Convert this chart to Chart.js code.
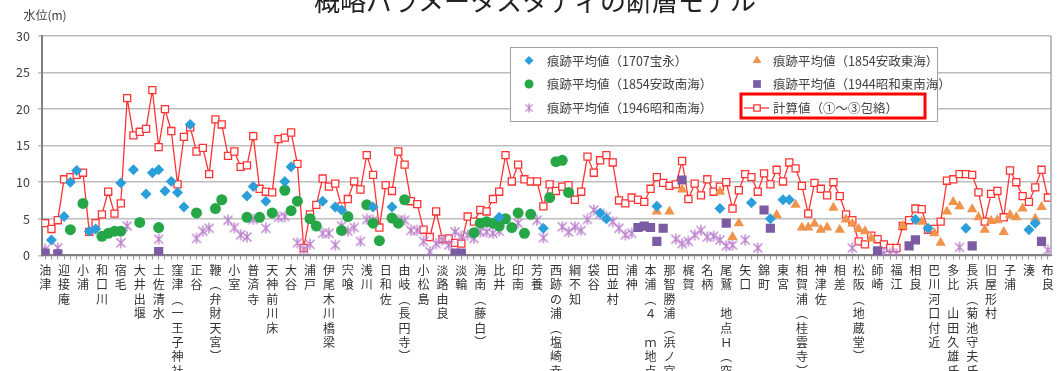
<!DOCTYPE html>
<html>
<head>
<meta charset="utf-8">
<script src="https://cdn.jsdelivr.net/npm/chart.js@4.4.1/dist/chart.umd.min.js"></script>
<style>
  html, body { margin: 0; padding: 0; background: #fff; overflow: hidden; }
</style>
</head>
<body>
<canvas id="myChart" width="1064" height="371"></canvas>
<script>
// 地点名（3データごとに1地点）
var places = [
  "油津", "迎接庵", "小浦", "和口川", "宿毛", "大井出堰", "土佐清水", "窪津（一王子神社）",
  "正谷", "鞭（弁財天宮）", "小室", "普済寺", "天神前川床", "大谷", "浦戸", "伊尾木川橋梁",
  "宍喰", "浅川", "日和佐", "由岐（長円寺）", "小松島", "淡路由良", "淡輪", "海南（藤白）",
  "比井", "印南", "芳養", "西跡の浦（塩崎幸", "綱不知", "袋谷", "田並村", "浦神",
  "本浦（４ ｍ地点）", "那智勝浦（浜ノ宮）", "梶賀", "名柄", "尾鷲 地点Ｈ（突", "矢口", "錦町", "東宮",
  "相賀浦（桂雲寺）", "神津佐", "相差", "松阪（地蔵堂）", "師崎", "福江", "相良", "巴川河口付近",
  "多比 山田久雄氏", "長浜（菊池守夫氏", "旧屋形村", "子浦", "湊", "布良"
];

// 計算値（①～③包絡）
var calc = [
  4.4, 3.6, 4.8, 10.4, 10.7, 11.0, 11.3, 3.2, 4.4, 5.6, 8.7, 5.7, 7.1, 21.5, 16.4, 16.9,
  17.3, 22.6, 14.8, 20.0, 17.0, 9.7, 16.2, 17.5, 14.2, 14.7, 11.1, 18.6, 17.9, 13.6, 14.2, 12.1,
  12.3, 16.3, 9.1, 8.7, 8.6, 15.9, 16.1, 16.8, 12.5, 1.0, 5.6, 6.9, 10.5, 9.4, 9.8, 6.7,
  7.7, 10.1, 9.0, 13.7, 11.0, 3.8, 9.6, 8.8, 14.2, 12.4, 7.4, 7.0, 3.5, 2.5, 6.0, 2.2,
  2.3, 1.7, 1.6, 5.3, 4.6, 6.2, 6.0, 7.7, 8.7, 13.7, 10.1, 12.4, 10.4, 10.1, 10.1, 6.7,
  9.7, 8.8, 9.4, 9.6, 7.6, 8.7, 13.5, 11.3, 13.0, 13.7, 12.7, 7.5, 7.1, 7.9, 7.6, 7.3,
  9.1, 10.7, 9.9, 9.5, 9.7, 12.9, 7.7, 9.8, 8.2, 10.4, 8.7, 9.4, 10.0, 6.4, 8.9, 11.1,
  10.7, 8.7, 11.2, 9.7, 11.7, 10.1, 12.7, 11.9, 9.5, 5.7, 9.9, 9.1, 8.2, 10.0, 8.1, 5.6,
  4.8, 1.9, 1.5, 2.7, 2.2, 1.5, 1.0, 1.0, 4.0, 4.8, 6.4, 6.3, 3.5, 3.6, 4.6, 10.2,
  10.4, 11.1, 11.1, 11.0, 8.6, 4.6, 8.4, 8.8, 5.2, 11.6, 10.0, 8.1, 7.3, 9.3, 11.7, 7.9
];

// 痕跡平均値 [データ番号, 水位]
var hoei1707 = [
  [1, 2.1], [3, 5.3], [4, 10.0], [5, 11.6], [7, 3.3], [8, 3.6], [12, 9.9], [14, 11.7],
  [16, 8.4], [17, 11.3], [18, 11.7], [19, 8.8], [20, 10.1], [21, 8.6], [22, 6.6], [23, 17.9],
  [32, 8.1], [33, 9.4], [35, 7.4], [38, 10.1], [39, 12.1], [44, 7.4], [46, 6.6], [47, 6.2],
  [52, 6.6], [55, 6.6], [72, 5.2], [79, 3.7], [88, 5.8], [89, 5.0], [97, 6.7], [107, 6.4],
  [112, 7.2], [115, 5.0], [117, 7.6], [118, 7.6], [138, 4.9], [140, 3.7], [146, 3.7], [156, 3.5],
  [157, 4.4]
];
var ansei1854t = [
  [97, 6.0], [99, 6.0], [101, 9.0], [107, 8.7], [109, 2.5], [110, 4.4], [116, 5.5], [119, 6.9],
  [120, 3.8], [121, 3.8], [122, 4.3], [123, 3.5], [124, 3.8], [125, 6.5], [126, 3.5], [127, 4.9],
  [128, 4.3], [129, 3.6], [130, 3.3], [131, 2.3], [136, 4.0], [139, 4.6], [141, 3.0], [142, 1.7],
  [143, 6.0], [144, 7.3], [145, 6.7], [147, 6.3], [148, 5.2], [149, 3.5], [150, 4.7], [151, 4.8],
  [152, 3.2], [153, 5.5], [154, 5.2], [155, 6.4], [157, 5.0], [158, 6.6]
];
var ansei1854n = [
  [4, 3.5], [6, 7.1], [9, 2.6], [10, 3.0], [11, 3.3], [12, 3.3], [15, 4.5], [18, 3.8],
  [24, 5.8], [27, 6.4], [28, 7.6], [32, 5.2], [34, 5.2], [36, 5.8], [38, 8.9], [39, 6.1],
  [40, 7.4], [42, 5.0], [43, 4.0], [47, 3.4], [48, 5.3], [51, 6.9], [52, 4.4], [53, 2.0],
  [55, 5.1], [56, 4.4], [57, 7.6], [68, 3.1], [69, 4.4], [70, 4.6], [71, 4.4], [72, 4.0],
  [73, 5.0], [74, 3.8], [75, 5.8], [76, 3.0], [77, 5.6], [80, 7.9], [81, 12.8], [82, 13.0],
  [83, 8.6]
];
var showa1944 = [
  [0, 0.3], [2, 0.2], [18, 0.5], [65, 0.3], [66, 0.3], [94, 3.8], [95, 4.0], [96, 3.8],
  [97, 1.9], [98, 3.7], [101, 10.3], [108, 4.4], [114, 6.2], [115, 3.7], [132, 0.6], [137, 1.3],
  [138, 2.1], [147, 1.3], [158, 1.9]
];
var showa1946 = [
  [0, 0.8], [2, 1.0], [12, 1.7], [13, 4.0], [18, 2.2], [24, 2.3], [25, 3.3], [26, 3.7],
  [29, 4.8], [30, 3.8], [31, 2.8], [32, 2.5], [33, 4.9], [35, 3.7], [37, 5.2], [38, 5.3],
  [40, 1.7], [41, 0.8], [42, 1.5], [44, 3.0], [45, 3.0], [46, 1.4], [47, 4.0], [48, 3.3],
  [49, 3.8], [50, 1.9], [51, 4.9], [52, 4.8], [56, 4.8], [57, 4.8], [58, 3.4], [59, 3.4],
  [60, 1.9], [61, 0.5], [62, 1.6], [63, 2.1], [64, 1.4], [65, 3.2], [66, 2.6], [67, 2.8],
  [68, 2.3], [69, 3.2], [70, 3.2], [71, 3.0], [72, 3.3], [75, 4.4], [78, 4.8], [79, 2.4],
  [82, 3.9], [83, 3.2], [84, 3.9], [85, 3.4], [86, 4.9], [87, 6.2], [88, 5.7], [89, 5.3],
  [90, 4.6], [91, 3.7], [92, 2.8], [93, 3.0], [100, 2.2], [101, 1.6], [102, 1.9], [103, 2.8],
  [104, 3.4], [105, 2.5], [106, 2.6], [107, 2.1], [108, 1.3], [109, 1.4], [111, 2.1], [113, 1.0],
  [128, 1.0], [132, 0.3], [133, 0.2], [134, 0.3], [135, 0.2], [145, 1.1], [159, 0.7]
];

var FONT = '"Noto Sans CJK JP", "Noto Sans", sans-serif';

function toPoints(pairs) {
  return pairs.map(function (p) { return { x: p[0], y: p[1] }; });
}

// 縦書き用に1文字ずつ改行、括弧は縦書き用の字形に
function vertical(name) {
  return Array.from(name).map(function (c) {
    if (c === '（') return '︵';
    if (c === '）') return '︶';
    return c;
  });
}

// アスタリスク型マーカー
function starMarker(color) {
  var c = document.createElement('canvas');
  c.width = 12; c.height = 12;
  var g = c.getContext('2d');
  g.strokeStyle = color;
  g.lineWidth = 1.4;
  g.beginPath();
  g.moveTo(1.5, 1.5); g.lineTo(10.5, 10.5);
  g.moveTo(10.5, 1.5); g.lineTo(1.5, 10.5);
  g.moveTo(6, 0.5); g.lineTo(6, 11.5);
  g.stroke();
  return c;
}

var C_BLUE = '#2b9fd9', C_ORANGE = '#f0934b', C_GREEN = '#27a647',
    C_PURPLE = '#7b5ca3', C_PINK = '#bb80cc', C_RED = '#ff3333';
var star = starMarker(C_PINK);

function markerSet(label, pairs, color, style, radius) {
  return {
    label: label,
    data: toPoints(pairs),
    showLine: false,
    pointStyle: style,
    pointRadius: radius,
    pointBackgroundColor: color,
    pointBorderColor: color,
    pointBorderWidth: 0
  };
}

var legendItems = [
  { text: '痕跡平均値（1707宝永）', style: 'rectRot', color: C_BLUE, r: 4.5, col: 0, row: 0 },
  { text: '痕跡平均値（1854安政東海）', style: 'triangle', color: C_ORANGE, r: 5, col: 1, row: 0 },
  { text: '痕跡平均値（1854安政南海）', style: 'circle', color: C_GREEN, r: 4.5, col: 0, row: 1 },
  { text: '痕跡平均値（1944昭和東南海）', style: 'rect', color: C_PURPLE, r: 5.5, col: 1, row: 1 },
  { text: '痕跡平均値（1946昭和南海）', style: 'star', color: C_PINK, r: 5, col: 0, row: 2 },
  { text: '計算値（①～③包絡）', style: 'line', color: C_RED, r: 4.5, col: 1, row: 2 }
];

var decor = {
  id: 'decor',
  afterDraw: function (chart) {
    var ctx = chart.ctx, a = chart.chartArea;
    ctx.save();
    // 枠の右辺
    ctx.strokeStyle = '#a6a6a6';
    ctx.lineWidth = 1.5;
    ctx.beginPath();
    ctx.moveTo(a.right, a.top);
    ctx.lineTo(a.right, a.bottom);
    ctx.stroke();

    // タイトル
    ctx.fillStyle = '#222';
    ctx.font = '26px ' + FONT;
    ctx.textAlign = 'center';
    ctx.textBaseline = 'middle';
    ctx.fillText('概略パラメータスタディの断層モデル', 535, 1);

    // 縦軸名
    ctx.fillStyle = '#404040';
    ctx.font = '12px ' + FONT;
    ctx.fillText('水位(m)', 45, 15);

    // 凡例
    ctx.fillStyle = '#fff';
    ctx.fillRect(510, 47, 427, 74);
    ctx.strokeStyle = '#a0a0a0';
    ctx.lineWidth = 1;
    ctx.strokeRect(510.5, 47.5, 427, 74);

    var colMarker = [529, 757], colText = [547, 773], rowY = [60.5, 84, 108];
    ctx.font = '12.5px ' + FONT;
    ctx.textAlign = 'left';
    legendItems.forEach(function (it) {
      var x = colMarker[it.col], y = rowY[it.row];
      if (it.style === 'star') {
        ctx.drawImage(star, x - 5, y - 5, 10, 10);
      } else if (it.style === 'line') {
        ctx.strokeStyle = it.color;
        ctx.lineWidth = 1.3;
        ctx.beginPath();
        ctx.moveTo(x - 13, y); ctx.lineTo(x + 12, y);
        ctx.stroke();
        ctx.fillStyle = '#fff';
        Chart.helpers.drawPoint(ctx, { pointStyle: 'rect', radius: it.r, rotation: 0, borderWidth: 1.3 }, x, y);
      } else {
        ctx.fillStyle = it.color;
        ctx.strokeStyle = it.color;
        Chart.helpers.drawPoint(ctx, { pointStyle: it.style, radius: it.r, rotation: 0, borderWidth: 0 }, x, y);
      }
      ctx.fillStyle = '#404040';
      ctx.fillText(it.text, colText[it.col], y + 0.5);
    });

    // 計算値の強調枠
    ctx.strokeStyle = '#ff0000';
    ctx.lineWidth = 3;
    ctx.strokeRect(741, 94, 184, 24);
    ctx.restore();
  }
};

var ctx = document.getElementById('myChart');
var myChart = new Chart(ctx, {
  type: 'line',
  data: {
    datasets: [
      markerSet('痕跡平均値(1707宝永)', hoei1707, C_BLUE, 'rectRot', 5.5),
      markerSet('痕跡平均値(1854安政東海)', ansei1854t, C_ORANGE, 'triangle', 6),
      markerSet('痕跡平均値(1854安政南海)', ansei1854n, C_GREEN, 'circle', 5.5),
      markerSet('痕跡平均値(1944昭和東南海)', showa1944, C_PURPLE, 'rect', 6.5),
      markerSet('痕跡平均値(1946昭和南海)', showa1946, C_PINK, star, 6),
      {
        label: '計算値(①～③包絡)',
        data: calc.map(function (v, i) { return { x: i, y: v }; }),
        borderColor: C_RED,
        borderWidth: 1.3,
        tension: 0,
        pointStyle: 'rect',
        pointRadius: 5,
        pointBorderWidth: 1.3,
        pointBorderColor: C_RED,
        pointBackgroundColor: '#fff'
      }
    ]
  },
  options: {
    responsive: false,
    animation: false,
    events: [],
    layout: { padding: { top: 36, right: 13, left: 0, bottom: 0 } },
    plugins: { legend: { display: false }, title: { display: false }, tooltip: { enabled: false } },
    scales: {
      x: {
        type: 'linear',
        min: -0.5,
        max: calc.length - 0.5,
        afterBuildTicks: function (scale) {
          scale.ticks = calc.map(function (v, i) { return { value: i }; });
        },
        afterFit: function (scale) { scale.height = 115.7; },
        ticks: {
          autoSkip: false,
          maxRotation: 0,
          minRotation: 0,
          padding: 4,
          color: '#333',
          font: { family: FONT, size: 12, lineHeight: 1.2 },
          callback: function (value) {
            return value % 3 === 0 ? vertical(places[value / 3]) : '';
          }
        },
        grid: { drawOnChartArea: false, drawTicks: true, tickLength: 4, color: '#8c8c8c' },
        border: { color: '#808080', width: 2 }
      },
      y: {
        min: 0,
        max: 30,
        afterFit: function (scale) { scale.width = 42; },
        ticks: {
          stepSize: 5,
          padding: 8,
          color: '#404040',
          font: { family: FONT, size: 12.5 }
        },
        grid: { color: '#bdbdbd', lineWidth: 1.5, tickLength: 4 },
        border: { color: '#808080', width: 2 }
      }
    }
  },
  plugins: [decor]
});
</script>
</body>
</html>
